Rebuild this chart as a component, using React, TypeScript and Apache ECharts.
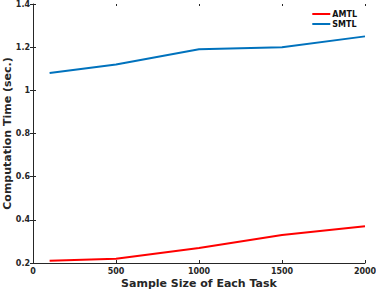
import React, { useEffect, useRef } from "react";
import * as echarts from "echarts";

const sampleSizes = [100, 500, 1000, 1500, 2000];
const amtl = [0.21, 0.22, 0.27, 0.33, 0.37];
const smtl = [1.08, 1.12, 1.19, 1.2, 1.25];
const seriesNames = ["AMTL", "SMTL"];
const xTitle = "Sample Size of Each Task";
const yTitle = "Computation Time (sec.)";

const FONT = "DejaVu Sans";

export default function App() {
  const ref = useRef<HTMLDivElement>(null);
  useEffect(() => {
    const chart = echarts.init(ref.current!, null, { renderer: "svg" });
    const toPairs = (ys: number[]) => sampleSizes.map((x, i) => [x, ys[i]]);
    chart.setOption({
      animation: false,
      backgroundColor: "#ffffff",
      textStyle: { fontFamily: FONT },
      grid: { left: 33, right: 11, top: 4, bottom: 27, containLabel: false, outerBoundsMode: "none" },
      legend: {
        data: seriesNames,
        orient: "vertical",
        right: 19,
        top: 10,
        padding: 0,
        itemWidth: 18,
        itemHeight: 2,
        itemGap: 2,
        icon: "rect",
        textStyle: { fontFamily: FONT, fontWeight: "bold", fontSize: 8, color: "#111", padding: [0, 0, 0, -3] },
      },
      xAxis: [
        {
          type: "value",
          min: 0,
          max: 2000,
          interval: 500,
          name: xTitle,
          nameLocation: "middle",
          nameGap: 15,
          nameMoveOverlap: false,
          nameTextStyle: { fontFamily: FONT, fontWeight: "bold", fontSize: 11, color: "#262626" },
          axisLine: { show: true, lineStyle: { color: "#262626", width: 1 } },
          axisTick: { show: true, inside: true, length: 3, lineStyle: { color: "#262626" } },
          axisLabel: {
            fontFamily: FONT,
            fontWeight: "bold",
            fontSize: 8,
            color: "#262626",
            margin: 4,
            formatter: (v: number) => String(v),
          },
          splitLine: { show: false },
        },
        {
          type: "value",
          position: "top",
          min: 0,
          max: 2000,
          interval: 500,
          axisLine: { show: false },
          axisTick: { show: true, inside: true, length: 2, lineStyle: { color: "#262626" } },
          axisLabel: { show: false },
          splitLine: { show: false },
        },
      ],
      yAxis: [
        {
          type: "value",
          min: 0.2,
          max: 1.4,
          interval: 0.2,
          name: yTitle,
          nameLocation: "middle",
          nameGap: 20,
          nameMoveOverlap: false,
          nameTextStyle: { fontFamily: FONT, fontWeight: "bold", fontSize: 11, color: "#262626" },
          axisLine: { show: false },
          axisTick: { show: true, inside: true, length: 3, lineStyle: { color: "#262626" } },
          axisLabel: { fontFamily: FONT, fontWeight: "bold", fontSize: 8, color: "#262626", margin: 3 },
          splitLine: { show: false },
        },
        {
          type: "value",
          position: "right",
          min: 0.2,
          max: 1.4,
          interval: 0.2,
          axisLine: { show: true, lineStyle: { color: "#262626", width: 1 } },
          axisTick: { show: true, inside: true, length: 3, lineStyle: { color: "#262626" } },
          axisLabel: { show: false },
          splitLine: { show: false },
        },
      ],
      series: [
        {
          name: seriesNames[0],
          type: "line",
          data: toPairs(amtl),
          symbol: "none",
          lineStyle: { color: "#ff0000", width: 2 },
          itemStyle: { color: "#ff0000" },
        },
        {
          name: seriesNames[1],
          type: "line",
          data: toPairs(smtl),
          symbol: "none",
          lineStyle: { color: "#0072bd", width: 2 },
          itemStyle: { color: "#0072bd" },
        },
      ],
    });
    return () => chart.dispose();
  }, []);
  return <div ref={ref} style={{ width: 376, height: 290, position: "absolute", left: 0, top: 0 }} />;
}
